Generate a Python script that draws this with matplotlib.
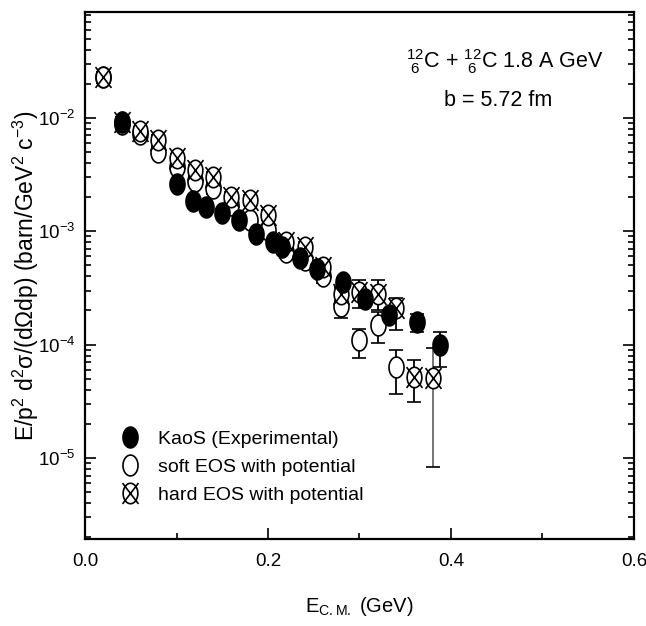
import numpy as np
import matplotlib
matplotlib.use("Agg")
import matplotlib.pyplot as plt
from matplotlib.path import Path
from matplotlib.lines import Line2D
from matplotlib.ticker import LogLocator, MultipleLocator, NullFormatter

# KaoS experimental data
exp_x = [0.04, 0.10, 0.118, 0.132, 0.150, 0.168, 0.187, 0.205, 0.215, 0.235,
         0.254, 0.282, 0.306, 0.332, 0.363, 0.388]
exp_y = [9.2e-3, 2.6e-3, 1.85e-3, 1.65e-3, 1.45e-3, 1.25e-3, 9.5e-4, 8.0e-4, 7.3e-4, 5.8e-4,
         4.6e-4, 3.6e-4, 2.5e-4, 1.82e-4, 1.58e-4, 1.0e-4]
exp_lo = [8e-4, 2e-4, 1.5e-4, 1.3e-4, 1.1e-4, 1.0e-4, 7e-5, 6e-5, 5e-5, 4e-5,
          3e-5, 3e-5, 2e-5, 1.6e-5, 2.9e-5, 3.6e-5]
exp_hi = [8e-4, 2e-4, 1.5e-4, 1.3e-4, 1.1e-4, 1.0e-4, 7e-5, 6e-5, 5e-5, 4e-5,
          3e-5, 3e-5, 2e-5, 1.6e-5, 2.9e-5, 2.9e-5]

# soft EOS with potential
soft_x = [0.02, 0.04, 0.06, 0.08, 0.10, 0.12, 0.14, 0.16, 0.18, 0.20,
          0.22, 0.24, 0.26, 0.28, 0.30, 0.32, 0.34]
soft_y = [2.3e-2, 8.8e-3, 7.2e-3, 5.0e-3, 3.7e-3, 2.8e-3, 2.4e-3, 1.7e-3, 1.26e-3, 1.03e-3,
          6.5e-4, 5.6e-4, 4.0e-4, 2.2e-4, 1.1e-4, 1.5e-4, 6.3e-5]
soft_lo = [2.5e-3, 9e-4, 7e-4, 5e-4, 4e-4, 3e-4, 2.5e-4, 1.8e-4, 1.4e-4, 1.1e-4,
           7e-5, 6e-5, 5e-5, 5e-5, 3.4e-5, 4.7e-5, 2.6e-5]
soft_hi = [2.5e-3, 9e-4, 7e-4, 5e-4, 4e-4, 3e-4, 2.5e-4, 1.8e-4, 1.4e-4, 1.1e-4,
           7e-5, 6e-5, 5e-5, 9.6e-5, 2.8e-5, 4.4e-5, 2.6e-5]

# hard EOS with potential
hard_x = [0.02, 0.04, 0.06, 0.08, 0.10, 0.12, 0.14, 0.16, 0.18, 0.20,
          0.22, 0.24, 0.26, 0.28, 0.30, 0.32, 0.34, 0.36, 0.38]
hard_y = [2.3e-2, 9.2e-3, 7.6e-3, 6.4e-3, 4.4e-3, 3.5e-3, 3.0e-3, 2.0e-3, 1.9e-3, 1.39e-3,
          8.0e-4, 7.3e-4, 4.8e-4, 2.8e-4, 2.9e-4, 2.8e-4, 2.1e-4, 5.2e-5, 5.1e-5]
hard_lo = [2.5e-3, 9e-4, 7e-4, 6e-4, 4e-4, 3e-4, 3e-4, 2e-4, 2e-4, 1.4e-4,
           8e-5, 7e-5, 5e-5, 4e-5, 8e-5, 8e-5, 7.5e-5, 2.1e-5, 4.27e-5]
hard_hi = [2.5e-3, 9e-4, 7e-4, 6e-4, 4e-4, 3e-4, 3e-4, 2e-4, 2e-4, 1.4e-4,
           8e-5, 7e-5, 5e-5, 4e-5, 8e-5, 9e-5, 5e-5, 2.1e-5, 4.2e-5]

labels = ["KaoS (Experimental)", "soft EOS with potential", "hard EOS with potential"]

plt.rcParams["font.family"] = ["Liberation Sans", "DejaVu Sans"]
plt.rcParams["mathtext.fontset"] = "custom"
plt.rcParams["mathtext.rm"] = "Liberation Sans"
plt.rcParams["mathtext.it"] = "Liberation Sans:italic"

# elliptic markers (the original figure is stretched vertically)
t = np.linspace(0, 2 * np.pi, 60)
ell = np.column_stack([0.72 * np.cos(t), np.sin(t)])
ell_path = Path(ell, closed=True)
cross_verts = np.vstack([ell, [[-0.78, -1.02], [0.78, 1.02], [-0.78, 1.02], [0.78, -1.02]]])
cross_codes = ([Path.MOVETO] + [Path.LINETO] * (len(ell) - 2) + [Path.CLOSEPOLY]
               + [Path.MOVETO, Path.LINETO, Path.MOVETO, Path.LINETO])
cross_path = Path(cross_verts, cross_codes)

fig = plt.figure(figsize=(6.46, 6.26), dpi=100)
ax = fig.add_axes([0.1316, 0.139, 0.8498, 0.842])

ms = 15
common = dict(linestyle="none", ecolor="black", elinewidth=1.3, capsize=5, capthick=1.3,
              markersize=ms, markeredgewidth=1.2)
ax.errorbar(soft_x, soft_y, yerr=[soft_lo, soft_hi], marker=ell_path, mfc="white",
            mec="black", zorder=2, **common)
eb = ax.errorbar(hard_x, hard_y, yerr=[hard_lo, hard_hi], marker=cross_path, mfc="white",
                 mec="black", zorder=3, **common)
cols = ["black"] * (len(hard_x) - 1) + ["#6a6a6a"]
eb.lines[2][0].set_colors(cols)
ax.errorbar(exp_x, exp_y, yerr=[exp_lo, exp_hi], marker=ell_path, mfc="black",
            mec="black", zorder=4, **common)

ax.set_yscale("log")
ax.set_xlim(0, 0.6)
ax.set_ylim(1.93e-6, 0.086)
ax.xaxis.set_major_locator(MultipleLocator(0.2))
ax.xaxis.set_minor_locator(MultipleLocator(0.1))
ax.xaxis.set_major_formatter(plt.FormatStrFormatter("%.1f"))
ax.yaxis.set_major_locator(LogLocator(base=10, numticks=10))
ax.yaxis.set_minor_locator(LogLocator(base=10, subs=np.arange(2, 10), numticks=20))
ax.yaxis.set_minor_formatter(NullFormatter())

for s in ax.spines.values():
    s.set_linewidth(1.6)
ax.tick_params(which="both", direction="in", right=True, top=False, width=1.2,
               labelsize=13.5)
ax.tick_params(axis="x", pad=10)
ax.tick_params(axis="y", pad=7)
ax.tick_params(which="major", length=8)
ax.tick_params(which="minor", length=4.5)

ax.set_xlabel(r"E$_{\mathrm{C.M.}}$ (GeV)", fontsize=14.5, labelpad=18)
ax.set_ylabel(r"E/p$^2$ d$^2$σ/(dΩdp) (barn/GeV$^2$ c$^{-3}$)", fontsize=16.5)
ax.yaxis.set_label_coords(-0.08, 0.5)

ax.text(0.765, 0.905, r"$^{12}_{\ 6}$C + $^{12}_{\ 6}$C 1.8 A GeV", transform=ax.transAxes,
        fontsize=15.5, ha="center", va="center")
ax.text(0.752, 0.832, "b = 5.72 fm", transform=ax.transAxes, fontsize=15.5,
        ha="center", va="center")

handles = [
    Line2D([], [], linestyle="none", marker=ell_path, mfc="black", mec="black",
           markersize=ms, markeredgewidth=1.2),
    Line2D([], [], linestyle="none", marker=ell_path, mfc="white", mec="black",
           markersize=ms, markeredgewidth=1.2),
    Line2D([], [], linestyle="none", marker=cross_path, mfc="white", mec="black",
           markersize=ms, markeredgewidth=1.2),
]
ax.legend(handles, labels, loc="lower left", bbox_to_anchor=(0.04, 0.04), frameon=False,
          fontsize=14, handletextpad=0.9, labelspacing=0.55, handlelength=1.0,
          borderpad=0.2)

fig.savefig("out.png", dpi=100)
